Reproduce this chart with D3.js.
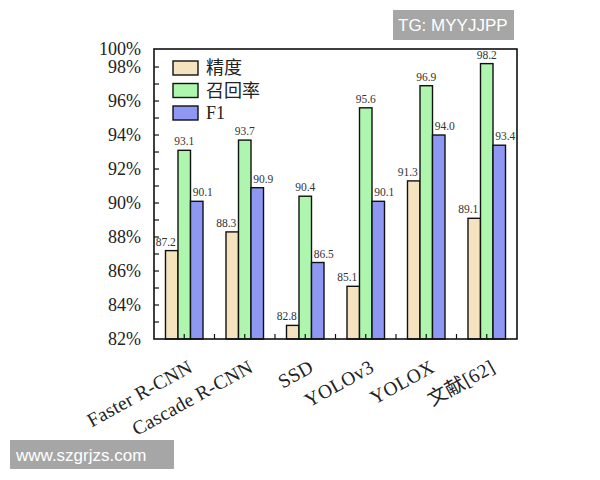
<!DOCTYPE html>
<html><head><meta charset="utf-8">
<script src="https://cdn.jsdelivr.net/npm/d3@7"></script>
<style>
body{margin:0;background:#fff;}
svg{display:block;}
</style></head>
<body><svg id="c" width="600" height="480"></svg>
<script>
const categories = ["Faster R-CNN", "Cascade R-CNN", "SSD", "YOLOv3", "YOLOX", "文献[62]"];
const seriesNames = ["精度", "召回率", "F1"];
const precision = [87.2, 88.3, 82.8, 85.1, 91.3, 89.1];
const recall = [93.1, 93.7, 90.4, 95.6, 96.9, 98.2];
const f1 = [90.1, 90.9, 86.5, 90.1, 94.0, 93.4];
const yTickValues = [82, 84, 86, 88, 90, 92, 94, 96, 98];
const yTickLabels = ["82%", "84%", "86%", "88%", "90%", "92%", "94%", "96%", "98%"];
const yTopLabel = "100%";

const colors = ["#f5e2bf", "#aef5ae", "#8e98f2"];
const labelShift = [-6, 0, 6];
const serif = "'Liberation Serif','Times New Roman','Noto Sans CJK SC',serif";

const svg = d3.select("#c");
const L = 154, R = 517, T = 49, B = 339;

const x = d3.scaleBand().domain(categories).range([L, R]).padding(0);
const y = d3.scaleLinear().domain([82, 99.06]).range([B, T]);
const inner = d3.scaleBand().domain(seriesNames).range([0, x.bandwidth() * 0.62]);
const groupOff = (x.bandwidth() - x.bandwidth() * 0.62) / 2;

const series = [precision, recall, f1];

// bars
series.forEach((vals, si) => {
  const g = svg.append("g");
  g.selectAll("rect").data(vals).join("rect")
    .attr("x", (d, i) => x(categories[i]) + groupOff + inner(seriesNames[si]))
    .attr("y", d => y(d))
    .attr("width", inner.bandwidth())
    .attr("height", d => B - y(d))
    .attr("fill", colors[si])
    .attr("stroke", "#111")
    .attr("stroke-width", 1.4);
  g.selectAll("text").data(vals).join("text")
    .attr("x", (d, i) => x(categories[i]) + groupOff + inner(seriesNames[si]) + inner.bandwidth() / 2 + labelShift[si])
    .attr("y", d => y(d) - 5)
    .attr("text-anchor", "middle")
    .attr("font-family", serif)
    .attr("font-size", 11.5)
    .attr("fill", "#333")
    .text(d => d.toFixed(1));
});

// y axis
const yAxis = d3.axisLeft(y).tickValues(yTickValues).tickSize(0).tickPadding(13)
  .tickFormat((d, i) => yTickLabels[i]);
const ya = svg.append("g").attr("transform", `translate(${L},0)`).call(yAxis);
ya.select(".domain").remove();
ya.selectAll("text").attr("font-family", serif).attr("font-size", 18).attr("fill", "#222");
ya.append("text").attr("x", -13).attr("y", y(99.06)).attr("dy", "0.32em")
  .attr("text-anchor", "end").attr("font-family", serif).attr("font-size", 18).attr("fill", "#222")
  .text(yTopLabel);

// inward minor ticks on y
const minor = d3.range(83, 99, 1);
svg.append("g").selectAll("line").data(minor).join("line")
  .attr("x1", L).attr("x2", L + 5)
  .attr("y1", d => y(d)).attr("y2", d => y(d))
  .attr("stroke", "#111").attr("stroke-width", 1.2);

// x ticks inward at centers and boundaries
const xt = [];
categories.forEach((c, i) => { xt.push(x(c) + x.bandwidth() / 2); if (i > 0) xt.push(x(c)); });
svg.append("g").selectAll("line").data(xt).join("line")
  .attr("x1", d => d).attr("x2", d => d)
  .attr("y1", B).attr("y2", B - 5)
  .attr("stroke", "#111").attr("stroke-width", 1.2);

// x labels
svg.append("g").selectAll("text").data(categories).join("text")
  .attr("transform", d => `translate(${x(d) + x.bandwidth() / 2 + 3},${B + 20}) rotate(-29)`)
  .attr("text-anchor", "end")
  .attr("dy", "0.7em")
  .attr("font-family", serif)
  .attr("font-size", 19.5)
  .attr("letter-spacing", 0.3)
  .attr("fill", "#222")
  .text(d => d);

// frame
svg.append("rect").attr("x", L).attr("y", T).attr("width", R - L).attr("height", B - T)
  .attr("fill", "none").attr("stroke", "#111").attr("stroke-width", 1.6);

// legend
const lg = svg.append("g");
seriesNames.forEach((n, i) => {
  const yy = 61 + i * 22.5;
  lg.append("rect").attr("x", 173).attr("y", yy).attr("width", 25).attr("height", 14)
    .attr("fill", colors[i]).attr("stroke", "#111").attr("stroke-width", 1.4);
  lg.append("text").attr("x", 206).attr("y", yy + 7).attr("dy", "0.36em")
    .attr("font-family", serif).attr("font-size", 18).attr("fill", "#222").text(n);
});

// watermarks
svg.append("rect").attr("x", 393).attr("y", 10).attr("width", 121).attr("height", 30).attr("fill", "#a6a6a6");
svg.append("text").attr("x", 398).attr("y", 25).attr("dy", "0.36em")
  .attr("font-family", "'Liberation Sans',Arial,sans-serif").attr("font-size", 17).attr("fill", "#fff").text("TG: MYYJJPP");
svg.append("rect").attr("x", 10).attr("y", 440).attr("width", 164).attr("height", 29).attr("fill", "#a6a6a6");
svg.append("text").attr("x", 16).attr("y", 454.5).attr("dy", "0.36em")
  .attr("font-family", "'Liberation Sans',Arial,sans-serif").attr("font-size", 17).attr("fill", "#fff").text("www.szgrjzs.com");
</script></body></html>
